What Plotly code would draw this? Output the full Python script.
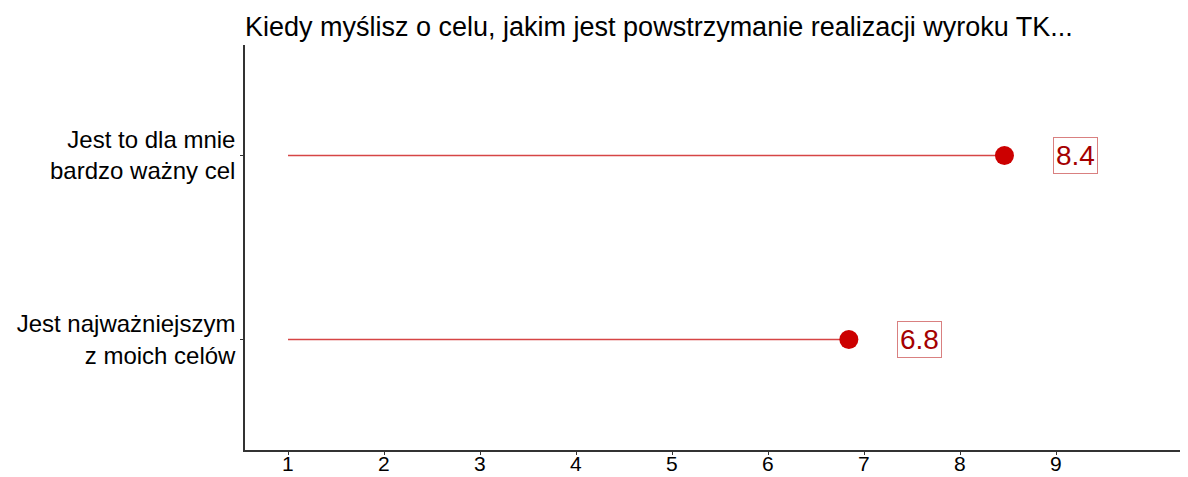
import plotly.graph_objects as go

# data
categories = ["Jest najważniejszym<br>z moich celów", "Jest to dla mnie<br>bardzo ważny cel"]
values = [6.84, 8.46]
value_labels = ["6.8", "8.4"]
positions = [1, 2]
baseline = 1
x_ticks = [1, 2, 3, 4, 5, 6, 7, 8, 9]

# page body has an 8px margin, so the figure is a bit smaller than the window
W, H = 1180, 469

fig = go.Figure()

# stems
for pos, val in zip(positions, values):
    fig.add_trace(go.Scatter(
        x=[baseline, val], y=[pos, pos], mode="lines",
        line=dict(color="#D64545", width=1.5),
        hoverinfo="skip", showlegend=False
    ))

# dots
fig.add_trace(go.Scatter(
    x=values, y=positions, mode="markers",
    marker=dict(color="#CC0000", size=19, line=dict(width=0)),
    showlegend=False
))

# value labels
for pos, val, lab in zip(positions, values, value_labels):
    fig.add_annotation(
        x=val + 0.74, y=pos, xref="x", yref="y", text=lab, showarrow=False,
        font=dict(family="Liberation Sans, Arial", size=28, color="#A50000"),
        bgcolor="white", bordercolor="#D98080", borderwidth=1, borderpad=2
    )

# x tick labels as annotations so they sit close to the axis
for t in x_ticks:
    fig.add_annotation(
        x=t, y=0, xref="x", yref="paper", text=str(t), showarrow=False,
        yanchor="top", yshift=-1, borderpad=0,
        font=dict(family="Liberation Sans, Arial", size=21, color="black")
    )

fig.update_layout(
    title=dict(
        text="Kiedy myślisz o celu, jakim jest powstrzymanie realizacji wyroku TK...",
        x=237 / W, xanchor="left", y=1 - 19 / H, yanchor="middle",
        font=dict(family="Liberation Sans, Arial", size=27, color="black")
    ),
    width=W, height=H,
    margin=dict(l=237, r=3, t=37, b=27),
    plot_bgcolor="white", paper_bgcolor="white",
    font=dict(family="Liberation Sans, Arial", color="black"),
    showlegend=False
)

fig.update_xaxes(
    range=[0.552, 10.34], tickvals=x_ticks, showticklabels=False,
    showgrid=False, zeroline=False,
    showline=True, linecolor="#333333", linewidth=1.5,
    ticks="outside", ticklen=3, tickcolor="#333333", automargin=False
)
fig.update_yaxes(
    range=[0.4, 2.6], tickvals=positions, ticktext=categories,
    showgrid=False, zeroline=False,
    showline=True, linecolor="#333333", linewidth=1.5,
    ticks="outside", ticklen=3, tickcolor="#333333",
    tickfont=dict(size=24, color="black"), automargin=False
)

fig.write_html("out.html")
